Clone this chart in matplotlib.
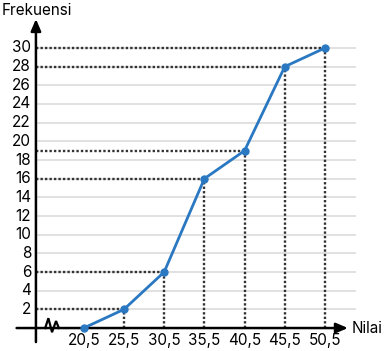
import matplotlib.pyplot as plt
import numpy as np

# data
nilai = [20.5, 25.5, 30.5, 35.5, 40.5, 45.5, 50.5]
frekuensi = [0, 2, 6, 16, 19, 28, 30]
x_labels = ["20,5", "25,5", "30,5", "35,5", "40,5", "45,5", "50,5"]
y_ticks = list(range(2, 31, 2))

plt.rcParams["font.family"] = ["Inter", "DejaVu Sans"]

fig = plt.figure(figsize=(3.88, 3.51), dpi=100)
ax = fig.add_axes([0, 0, 1, 1])
ax.set_xlim(10.08, 58.34)
ax.set_ylim(-2.46, 35.14)
ax.axis("off")

x0 = 14.55  # y-axis position
line_color = "#2a78c2"

# grid lines
for y in y_ticks:
    ax.plot([x0, 54.2], [y, y], color="#dedede", lw=1.3, zorder=1)

# dotted guides
for x, y in zip(nilai[1:], frekuensi[1:]):
    ax.plot([x0, x], [y, y], color="#333333", lw=1.7, ls=(0, (1, 0.9)), zorder=2)
    ax.plot([x, x], [0, y], color="#333333", lw=1.7, ls=(0, (1, 0.9)), zorder=2)

# axes with arrows
ax.annotate("", xy=(x0, 33.4), xytext=(x0, -1.8),
            arrowprops=dict(arrowstyle="-|>,head_length=0.7,head_width=0.3", color="black", lw=1.8))
ax.annotate("", xy=(53.7, 0), xytext=(11.8, 0),
            arrowprops=dict(arrowstyle="-|>,head_length=0.7,head_width=0.3", color="black", lw=1.8))

# axis break
bx = np.array([15.7, 16.1, 16.55, 17.05, 17.4])
by = np.array([0, 1.05, -0.45, 0.75, 0])
ax.plot(bx, by, color="black", lw=1.6, zorder=3, solid_joinstyle="miter")

# ogive
ax.plot(nilai, frekuensi, color=line_color, lw=2.0, marker="o", ms=5, zorder=4)

# tick labels
for y in y_ticks:
    ax.text(x0 - 0.6, y, str(y), ha="right", va="center", fontsize=11)
for x, lab in zip(nilai, x_labels):
    ax.text(x, -0.5, lab, ha="center", va="top", fontsize=11)

ax.text(10.3, 34.0, "Frekuensi", ha="left", va="center", fontsize=11)
ax.text(53.85, 0, "Nilai", ha="left", va="center", fontsize=11)

fig.savefig("out.png", dpi=100)
